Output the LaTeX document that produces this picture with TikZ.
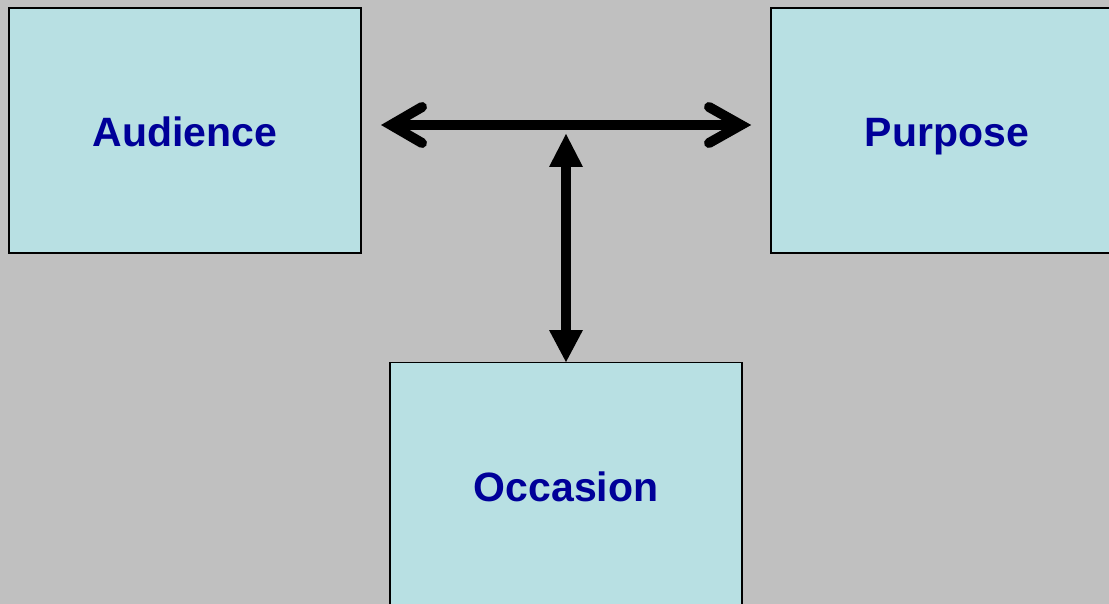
\documentclass[tikz,border=0pt]{standalone}
\usepackage{fontspec}
\setmainfont{Liberation Sans}
\definecolor{bg}{HTML}{C0C0C0}
\definecolor{boxfill}{HTML}{B8E0E3}
\definecolor{txt}{HTML}{000099}
\begin{document}
\begin{tikzpicture}[x=1pt,y=-1pt,
  box/.style={draw=black,line width=1.2pt,fill=boxfill,minimum width=352pt,minimum height=245pt,inner sep=0pt,
    text height=40pt,text depth=8pt,
    font=\fontsize{41}{41}\selectfont\bfseries,text=txt},
  shaft/.style={line width=10pt},
  barb/.style={line width=10pt,line cap=round,line join=miter},
  tri/.style={fill=black}]
\useasboundingbox (0,0) rectangle (1109,604);
\fill[bg] (0,0) rectangle (1109,604);
\clip (0,0) rectangle (1109,604);
\node[box] (aud) at (185,130.5) {Audience};
\node[box] (pur) at (947,130.5) {Purpose};
\node[box] (occ) at (566,485) {Occasion};
% horizontal double arrow
\coordinate (hl) at (391,125);
\coordinate (hr) at (741,125);
\draw[shaft] (hl) -- (hr);
\draw[barb] (422,107) -- (hl) -- (422,143);
\draw[barb] (709,107) -- (hr) -- (709,143);
% vertical double arrow
\coordinate (vt) at (566,134);
\coordinate (vb) at (566,362);
\draw[shaft] (566,166) -- (566,331);
\fill[tri] (vt) -- (549,167) -- (583,167) -- cycle;
\fill[tri] (vb) -- (549,330) -- (583,330) -- cycle;
\end{tikzpicture}
\end{document}
